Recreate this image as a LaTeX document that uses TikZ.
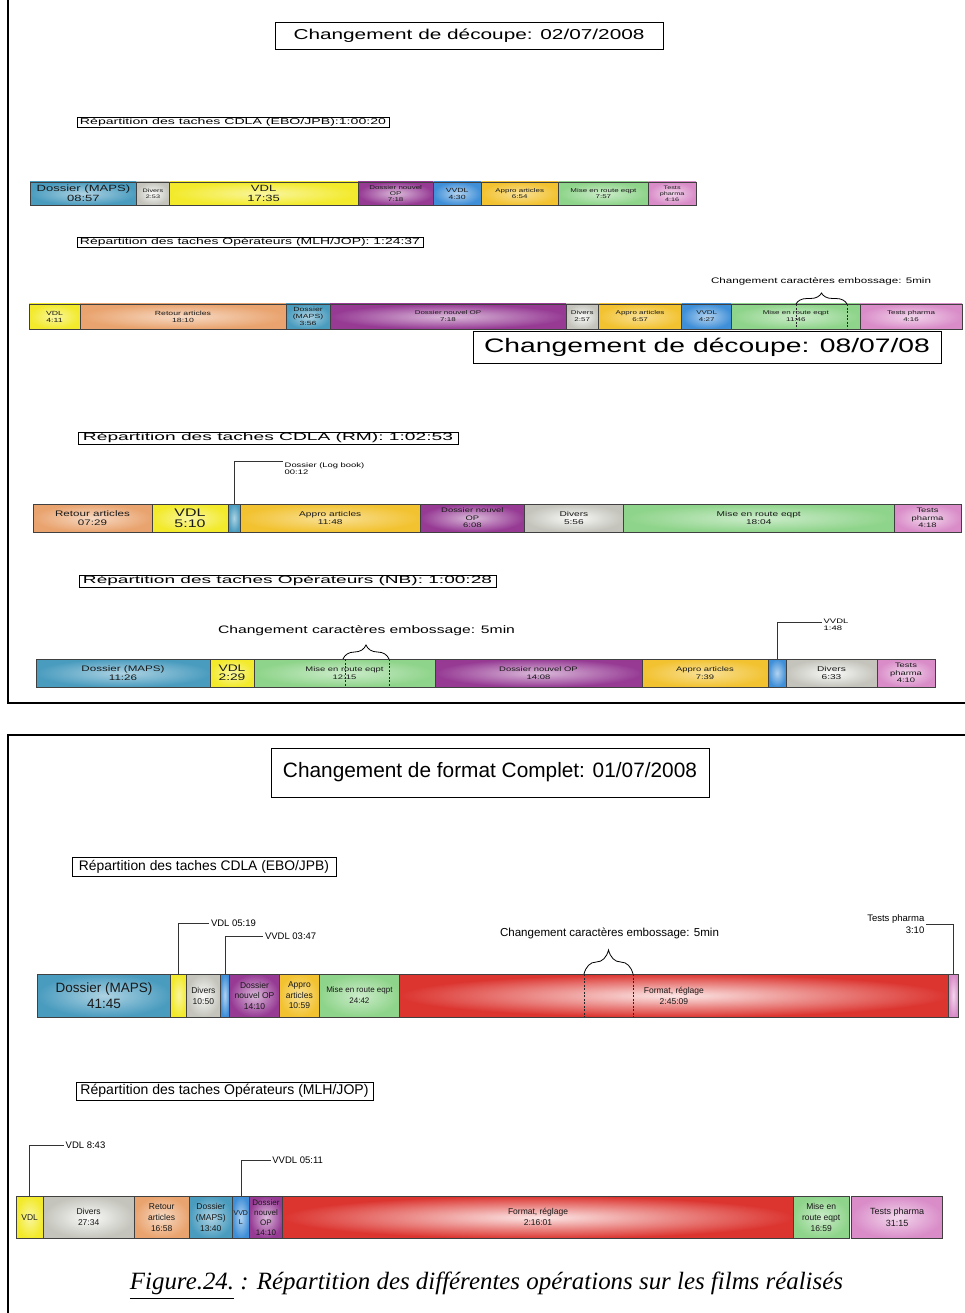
\documentclass[tikz,border=0pt]{standalone}
\usepackage{fontspec}
\setmainfont{Liberation Sans}
\newfontfamily\wf[FakeStretch=1.45]{Liberation Sans}
\newfontfamily\capf{Liberation Serif}
\usetikzlibrary{decorations.pathreplacing,calc}
\newcommand\fT[2]{\wf\fontsize{#1}{#2}\selectfont}
\newcommand\fN[2]{\fontsize{#1}{#2}\selectfont}
\newcommand\fitw[2]{\resizebox{#1pt}{!}{#2}}
\newcommand\fitwh[3]{\resizebox{#1pt}{#2pt}{#3}}
\newcommand\bseg[7]{\pgfmathsetmacro\segw{#3-#2}\pgfmathsetmacro\segh{#5-#4}%
  \node[seg,#6,minimum width=\segw pt,minimum height=\segh pt] (#1) at ({(#2+#3)/2},{(#4+#5)/2}) {#7};}
\definecolor{cTeal}{HTML}{4A9CBF}
\definecolor{cGray}{HTML}{C4C4BC}
\definecolor{cYel}{HTML}{F2EA2A}
\definecolor{cPur}{HTML}{963A94}
\definecolor{cBlue}{HTML}{3F8FD8}
\definecolor{cGold}{HTML}{F2C230}
\definecolor{cGreen}{HTML}{8ED48A}
\definecolor{cPink}{HTML}{D98CC8}
\definecolor{cPeach}{HTML}{E9A36E}
\definecolor{cRed}{HTML}{DC3530}
\tikzset{
  seg/.style={draw=black!75, line width=0.5pt, inner sep=0pt, outer sep=0pt, align=center, text=black!90},
  fTeal/.style={inner color=cTeal!45!white, outer color=cTeal},
  fGray/.style={inner color=white!92!cGray, outer color=cGray},
  fYel/.style={inner color=cYel!45!white, outer color=cYel},
  fPur/.style={inner color=cPur!35!white, outer color=cPur},
  fBlue/.style={inner color=cBlue!40!white, outer color=cBlue},
  fGold/.style={inner color=cGold!50!white, outer color=cGold},
  fGreen/.style={inner color=cGreen!45!white, outer color=cGreen},
  fPink/.style={inner color=cPink!35!white, outer color=cPink},
  fPeach/.style={inner color=cPeach!40!white, outer color=cPeach},
  fRed/.style={inner color=cRed!12!white, outer color=cRed},
  tbox/.style={draw, line width=0.8pt, inner sep=0pt},
  lbl/.style={inner sep=1.5pt, text=black},
  cal/.style={draw=black!80, line width=0.5pt},
  mk/.style={draw=black!85, line width=0.6pt, dash pattern=on 2pt off 1.5pt},
  brc/.style={draw, line width=0.8pt, decorate, decoration={brace, aspect=0.5}},
  frame/.style={line width=2pt}
}
\begin{document}
\begin{tikzpicture}[x=1pt,y=-1pt]
\useasboundingbox (0,0) rectangle (965,1313);
\fill[white] (0,0) rectangle (965,1313);
% frames
\draw[frame] (8,0) -- (8,703) -- (965,703);
\draw[frame] (965,735) -- (8,735) -- (8,1313);
% ---------- top panel ----------
\node[tbox, minimum width=388pt, minimum height=27pt] (t1) at (469,35.5) {\fitw{351}{\wf Changement de découpe: 02/07/2008}};
\node[tbox, line width=0.6pt, minimum width=312pt, minimum height=10pt] (l1) at (233,122) {\fitwh{306}{6.3}{\wf Répartition des taches CDLA (EBO/JPB):1:00:20}};
% bar 1
\bseg{b1a}{30}{136.7}{182}{205}{fTeal,font=\fT{9}{9.5}}{Dossier (MAPS)\\08:57}
\bseg{b1b}{136.7}{169.3}{182}{205}{fGray,font=\fT{5}{5.8}}{Divers\\2:53}
\bseg{b1c}{169.3}{358}{182}{205}{fYel,font=\fT{9}{9.5}}{VDL\\17:35}
\bseg{b1d}{358}{433.3}{182}{205}{fPur,font=\fT{5.5}{6.3}}{Dossier nouvel\\OP\\7:18}
\bseg{b1e}{433.3}{481}{182}{205}{fBlue,font=\fT{6}{7}}{VVDL\\4:30}
\bseg{b1f}{481}{558.5}{182}{205}{fGold,font=\fT{5.5}{6.5}}{Appro articles\\6:54}
\bseg{b1g}{558.5}{648.3}{182}{205}{fGreen,font=\fT{5.5}{6.5}}{Mise en route eqpt\\7:57}
\bseg{b1h}{648.3}{696}{182}{205}{fPink,font=\fT{5}{6}}{Tests\\pharma\\4:16}
\node[tbox, line width=0.6pt, minimum width=346pt, minimum height=10.5pt] (l2) at (250,242.5) {\fitwh{340}{6.6}{\wf Répartition des taches Opérateurs (MLH/JOP): 1:24:37}};
% bar 2
\bseg{b2a}{29}{80}{304}{329}{fYel,font=\fT{6}{7}}{VDL\\4:11}
\bseg{b2b}{80}{286}{304}{329}{fPeach,font=\fT{6}{7}}{Retour articles\\18:10}
\bseg{b2c}{286}{330}{304}{329}{fTeal,font=\fT{6}{7}}{Dossier\\(MAPS)\\3:56}
\bseg{b2d}{330}{566}{304}{329}{fPur,font=\fT{5.5}{7}}{Dossier nouvel OP\\7:18}
\bseg{b2e}{566}{598.5}{304}{329}{fGray,font=\fT{5.5}{7}}{Divers\\2:57}
\bseg{b2f}{598.5}{681.7}{304}{329}{fGold,font=\fT{5.5}{7}}{Appro articles\\6:57}
\bseg{b2g}{681.7}{731.7}{304}{329}{fBlue,font=\fT{5.5}{7}}{VVDL\\4:27}
\bseg{b2h}{731.7}{860}{304}{329}{fGreen,font=\fT{5.5}{7}}{Mise en route eqpt\\11:46}
\bseg{b2i}{860}{962}{304}{329}{fPink,font=\fT{5.5}{7}}{Tests pharma\\4:16}
\draw[mk] (796,304) -- (796,329);
\draw[mk] (847,304) -- (847,329);
\draw[brc, decoration={amplitude=11pt}] (796,304) -- (847,304);
\node[lbl] (e2) at (821,281.5) {\fitw{220}{\wf Changement caractères embossage: 5min}};
\node[tbox, minimum width=468pt, minimum height=32pt] (t2) at (707,347) {\fitw{446}{\wf Changement de découpe: 08/07/08}};
% bar 3
\node[tbox, minimum width=380pt, minimum height=12pt] (l3) at (268,438) {\fitwh{370}{7.8}{\wf Répartition des taches CDLA (RM): 1:02:53}};
\bseg{b3a}{33}{152}{504}{532}{fPeach,font=\fT{8}{9}}{Retour articles\\07:29}
\bseg{b3b}{152}{228}{504}{532}{fYel,font=\fT{11}{11}}{VDL\\5:10}
\bseg{b3c}{228}{240}{504}{532}{fTeal}{}
\bseg{b3d}{240}{420.5}{504}{532}{fGold,font=\fT{7}{8}}{Appro articles\\11:48}
\bseg{b3e}{420.5}{524.3}{504}{532}{fPur,font=\fT{6.5}{7.5}}{Dossier nouvel\\OP\\6:08}
\bseg{b3f}{524.3}{623.5}{504}{532}{fGray,font=\fT{7}{8}}{Divers\\5:56}
\bseg{b3g}{623.5}{894}{504}{532}{fGreen,font=\fT{7}{8}}{Mise en route eqpt\\18:04}
\bseg{b3h}{894}{961}{504}{532}{fPink,font=\fT{6.5}{7.5}}{Tests\\pharma\\4:18}
\node[lbl, anchor=north west, align=left, font=\fT{6.5}{7.5}] (lg) at (283,461) {Dossier (Log book)\\00:12};
\draw[cal] (b3c.north) |- (lg.north west);
% bar 4
\node[tbox, minimum width=417pt, minimum height=12pt] (l4) at (287.5,581) {\fitwh{409}{7.8}{\wf Répartition des taches Opérateurs (NB): 1:00:28}};
\node[lbl] (e4) at (366.5,631) {\fitw{297}{\wf Changement caractères embossage: 5min}};
\bseg{b4a}{36}{210}{659}{687}{fTeal,font=\fT{8}{9}}{Dossier (MAPS)\\11:26}
\bseg{b4b}{210}{254}{659}{687}{fYel,font=\fT{9.5}{9.5}}{VDL\\2:29}
\bseg{b4c}{254}{435}{659}{687}{fGreen,font=\fT{6.5}{8}}{Mise en route eqpt\\12:15}
\bseg{b4d}{435}{642}{659}{687}{fPur,font=\fT{6.5}{8}}{Dossier nouvel OP\\14:08}
\bseg{b4e}{642}{768}{659}{687}{fGold,font=\fT{6.5}{8}}{Appro articles\\7:39}
\bseg{b4f}{768}{786}{659}{687}{fBlue}{}
\bseg{b4g}{786}{877}{659}{687}{fGray,font=\fT{7}{8}}{Divers\\6:33}
\bseg{b4h}{877}{935}{659}{687}{fPink,font=\fT{6.5}{7.5}}{Tests\\pharma\\4:10}
\draw[mk] (345,659) -- (345,687);
\draw[mk] (389,659) -- (389,687);
\draw[brc, decoration={amplitude=14pt}] (343,659) -- (389,659);
\node[lbl, anchor=north west, align=left, font=\fT{6.5}{7.5}] (vv4) at (822,617) {VVDL\\1:48};
\draw[cal] (b4f.north) |- ($(vv4.north west)+(0,5)$);
% ---------- bottom panel ----------
\node[tbox, minimum width=438pt, minimum height=49pt] (t3) at (490,772.5) {\fitw{414}{Changement de format Complet: 01/07/2008}};
\node[tbox, minimum width=264pt, minimum height=19pt] (l5) at (204,866.5) {\fitw{250}{Répartition des taches CDLA (EBO/JPB)}};
% bar 5
\bseg{b5a}{37.5}{170.7}{974}{1017}{fTeal,font=\fN{13.5}{16}}{Dossier (MAPS)\\41:45}
\bseg{b5b}{170.7}{186.7}{974}{1017}{fYel}{}
\bseg{b5c}{186.7}{220}{974}{1017}{fGray,font=\fN{8.5}{11}}{Divers\\10:50}
\bseg{b5d}{220}{229.5}{974}{1017}{fBlue}{}
\bseg{b5e}{229.5}{279.5}{974}{1017}{fPur,font=\fN{8.5}{10.5}}{Dossier\\nouvel OP\\14:10}
\bseg{b5f}{279.5}{319.3}{974}{1017}{fGold,font=\fN{8.5}{10.5}}{Appro\\articles\\10:59}
\bseg{b5g}{319.3}{399.5}{974}{1017}{fGreen,font=\fN{8}{11}}{Mise en route eqpt\\24:42}
\bseg{b5h}{399.5}{948.3}{974}{1017}{fRed,font=\fN{8.5}{11}}{Format, réglage\\2:45:09}
\bseg{b5i}{948.3}{958.3}{974}{1017}{fPink}{}
\draw[mk] (584,974) -- (584,1017);
\draw[mk] (633,974) -- (633,1017);
\draw[brc, decoration={amplitude=24pt}] (584,974) -- (633,974);
\node[lbl] (e5) at (609.5,933) {\fitw{219}{Changement caractères embossage: 5min}};
\node[lbl, anchor=west, font=\fN{9.5}{11}] (v5) at (209.3,923.3) {VDL 05:19};
\draw[cal] (b5b.north) |- (v5.west);
\node[lbl, anchor=west, font=\fN{9.5}{11}] (vv5) at (263.3,936.7) {VVDL 03:47};
\draw[cal] (b5d.north) |- (vv5.west);
\node[lbl, anchor=east, align=right, font=\fN{9.5}{11.5}] (tp5) at (926,924) {Tests pharma\\3:10};
\draw[cal] (b5i.north) |- (tp5.east);
% bar 6
\node[tbox, minimum width=297pt, minimum height=18pt] (l6) at (224.5,1091) {\fitw{288}{Répartition des taches Opérateurs (MLH/JOP)}};
\bseg{b6a}{16}{43.3}{1196}{1238.5}{fYel,font=\fN{8.5}{10}}{VDL}
\bseg{b6b}{43.3}{134}{1196}{1238.5}{fGray,font=\fN{8.5}{11}}{Divers\\27:34}
\bseg{b6c}{134}{189.3}{1196}{1238.5}{fPeach,font=\fN{8.5}{11}}{Retour\\articles\\16:58}
\bseg{b6d}{189.3}{232.3}{1196}{1238.5}{fTeal,font=\fN{8.5}{11}}{Dossier\\(MAPS)\\13:40}
\bseg{b6e}{232.3}{249.3}{1196}{1238.5}{fBlue,font=\fN{7}{9}}{VVD\\L}
\bseg{b6f}{249.3}{282.7}{1196}{1238.5}{fPur,font=\fN{8}{10}}{Dossier\\nouvel\\OP\\14:10}
\bseg{b6g}{282.7}{793.3}{1196}{1238.5}{fRed,font=\fN{8.5}{11}}{Format, réglage\\2:16:01}
\bseg{b6h}{793.3}{849}{1196}{1238.5}{fGreen,font=\fN{8.5}{11}}{Mise en\\route eqpt\\16:59}
\bseg{b6i}{851.7}{942.7}{1196}{1238.5}{fPink,font=\fN{9}{12}}{Tests pharma\\31:15}
\node[lbl, anchor=west, font=\fN{9.5}{11}] (v6) at (64,1145.5) {VDL 8:43};
\draw[cal] (b6a.north) |- (v6.west);
\node[lbl, anchor=west, font=\fN{9.5}{11}] (vv6) at (270.7,1160.7) {VVDL 05:11};
\draw[cal] (b6e.north) |- (vv6.west);
% caption
\node (cap) at (486.5,1286) {\fitw{713}{\capf\itshape\underline{Figure.24.}\ : Répartition des différentes opérations sur les films réalisés}};
\end{tikzpicture}
\end{document}
